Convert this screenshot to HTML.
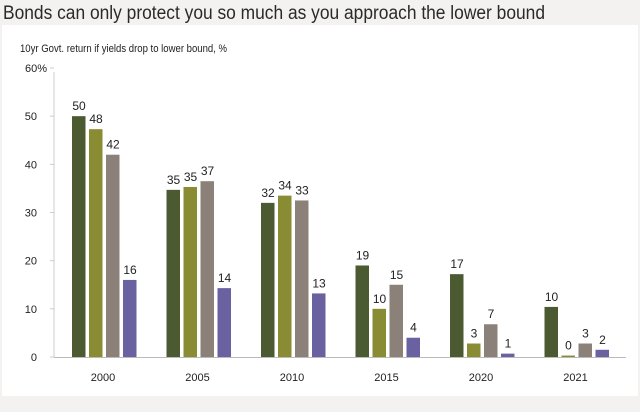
<!DOCTYPE html>
<html><head><meta charset="utf-8"><style>
body{margin:0;width:640px;height:407px;background:#f3f2f0;overflow:hidden;font-family:"Liberation Sans",sans-serif}
</style></head><body>
<svg width="640" height="407" id="c">
<rect x="0" y="0" width="640" height="407" fill="#f3f2f0"/>
<text x="3" y="19" font-size="19" fill="#2a2a2a" textLength="542" lengthAdjust="spacingAndGlyphs">Bonds can only protect you so much as you approach the lower bound</text>
<rect x="2" y="25" width="636" height="371" fill="#fff"/>
<text x="20" y="52" font-size="11" fill="#222" textLength="207" lengthAdjust="spacingAndGlyphs">10yr Govt. return if yields drop to lower bound, %</text>
<g id="plot"></g>
</svg>
<script>
const categories=["2000","2005","2010","2015","2020","2021"];
const s1=[50,34.7,32,19,17.2,10.4];
const s2=[47.3,35.3,33.5,10,2.8,0.3];
const s3=[42,36.5,32.5,15,6.8,2.8];
const s4=[16,14.3,13.2,4,0.7,1.5];
const l1=["50","35","32","19","17","10"];
const l2=["48","35","34","10","3","0"];
const l3=["42","37","33","15","7","3"];
const l4=["16","14","13","4","1","2"];
const yTicks=[0,10,20,30,40,50,60];
const NS="http://www.w3.org/2000/svg";
const g=document.getElementById('plot');
const y0=357,yTop=68,yMax=60;
const y=v=>y0-(v/yMax)*(y0-yTop);
const gx=i=>72+i*94.5;
const colors=["#4b5a30","#8a8c33","#8c8178","#6a62a0"];
function el(t,a){const e=document.createElementNS(NS,t);for(const k in a)e.setAttribute(k,a[k]);g.appendChild(e);return e;}
let ax=el('line',{x1:54,y1:y(yMax)+4,x2:54,y2:y0,stroke:'#ccc'});


let bx=el('line',{x1:54,y1:y0+0.5,x2:626,y2:y0+0.5,stroke:'#bbb'});


yTicks.forEach(t=>{
  const tk=el('line',{x1:50,x2:54,y1:y(t),y2:y(t),stroke:'#ccc'});
  
  
  const tx=el('text',{x:t===60?47:37,y:y(t)+4,'font-size':11,fill:'#222','text-anchor':'end'});
  
  
  tx.textContent=t===60?'60%':String(t);
});
const series=[s1,s2,s3,s4],labels=[l1,l2,l3,l4];
categories.forEach((c,i)=>{
  series.forEach((s,j)=>{
    const x=gx(i)+j*17,v=s[i];
    const r=el('rect',{x:x,y:y(v),width:13.5,height:y0-y(v),fill:colors[j]});
    
    
    const t=el('text',{x:x+7,y:y(v)-6,'font-size':12,fill:'#222','text-anchor':'middle'});
    
    
    t.textContent=labels[j][i];
  });
  const xl=el('text',{x:gx(i)+31,y:381,'font-size':11,fill:'#222','text-anchor':'middle'});
  
  
  xl.textContent=c;
});
</script>
</body></html>
